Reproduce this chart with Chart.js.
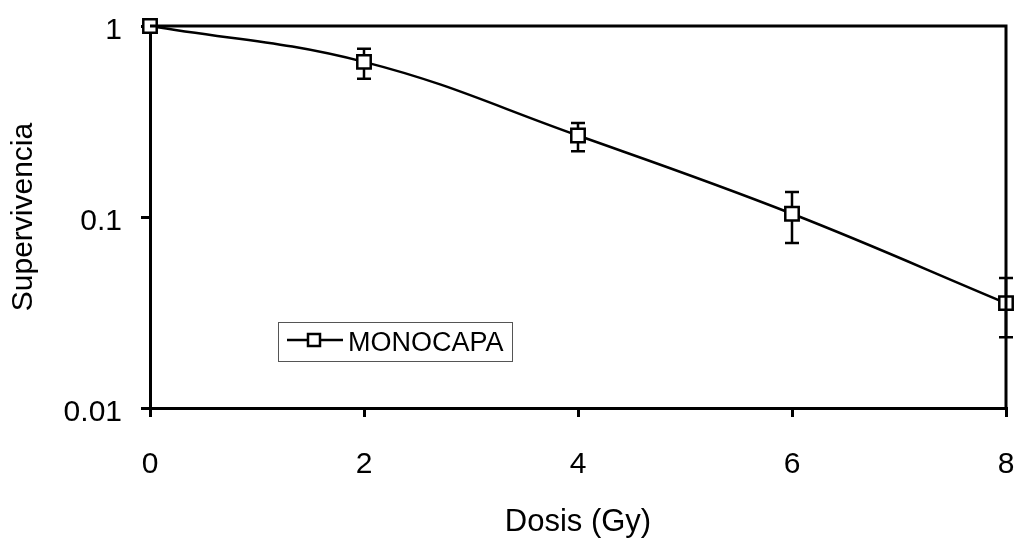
<!DOCTYPE html>
<html>
<head>
<meta charset="utf-8">
<script src="https://cdn.jsdelivr.net/npm/chart.js@4"></script>
<style>
  html, body { margin: 0; padding: 0; background: #fff; }
  #wrap { width: 1018px; height: 538px; }
</style>
</head>
<body>
<div id="wrap"><canvas id="graph-viewer" width="1018" height="538"></canvas></div>
<script>
// dose (Gy) and surviving fraction
const doses = [0, 2, 4, 6, 8];
const survival = [1.0, 0.649, 0.267, 0.104, 0.0354];
const errUpper = [1.0, 0.759, 0.311, 0.135, 0.0479];
const errLower = [1.0, 0.529, 0.221, 0.073, 0.0235];
const yTicks = [0.01, 0.1, 1];
const xTicks = [0, 2, 4, 6, 8];
const seriesName = 'MONOCAPA';

const FONT = 'Arial, "Liberation Sans", sans-serif';

// vertical error bars with caps, drawn under the markers
const errorBars = {
    id: 'errorBars',
    beforeDatasetsDraw(chart) {
        const ctx = chart.ctx;
        const xs = chart.scales.x, ys = chart.scales.y;
        ctx.save();
        ctx.strokeStyle = '#000';
        ctx.lineWidth = 2.5;
        doses.forEach(function (d, i) {
            if (errUpper[i] === errLower[i]) return;
            const px = xs.getPixelForValue(d);
            const top = ys.getPixelForValue(errUpper[i]);
            const bot = ys.getPixelForValue(errLower[i]);
            ctx.beginPath();
            ctx.moveTo(px, top); ctx.lineTo(px, bot);
            ctx.moveTo(px - 7, top); ctx.lineTo(px + 7, top);
            ctx.moveTo(px - 7, bot); ctx.lineTo(px + 7, bot);
            ctx.stroke();
        });
        ctx.restore();
    }
};

// top and right edges of the plot box plus the boxed legend inside it
const frameAndLegend = {
    id: 'frameAndLegend',
    afterDatasetsDraw(chart) {
        const ctx = chart.ctx;
        const a = chart.chartArea;
        ctx.save();
        ctx.strokeStyle = '#000';
        ctx.lineWidth = 3;
        ctx.beginPath();
        ctx.moveTo(a.left, a.top); ctx.lineTo(a.right, a.top); ctx.lineTo(a.right, a.bottom);
        ctx.stroke();

        // legend box
        ctx.lineWidth = 1;
        ctx.strokeStyle = '#555';
        ctx.fillStyle = '#fff';
        ctx.fillRect(278.5, 322.5, 234, 39);
        ctx.strokeRect(278.5, 322.5, 234, 39);
        ctx.strokeStyle = '#000';
        ctx.lineWidth = 2.5;
        ctx.beginPath();
        ctx.moveTo(287, 340); ctx.lineTo(343, 340);
        ctx.stroke();
        ctx.fillRect(308, 334, 12, 12);
        ctx.strokeRect(308, 334, 12, 12);
        ctx.fillStyle = '#000';
        ctx.font = '27px ' + FONT;
        ctx.textBaseline = 'middle';
        ctx.textAlign = 'left';
        ctx.fillText(seriesName, 348, 344);
        ctx.restore();
    }
};

document.addEventListener('DOMContentLoaded', function () {
    const ctx = document.getElementById('graph-viewer').getContext('2d');
    new Chart(ctx, {
        type: 'line',
        data: {
            datasets: [{
                label: seriesName,
                data: doses.map((d, i) => ({ x: d, y: survival[i] })),
                borderColor: '#000',
                borderWidth: 2.5,
                backgroundColor: '#fff',
                pointStyle: 'rect',
                pointRadius: 9.5,
                pointBorderWidth: 2.5,
                pointBorderColor: '#000',
                pointBackgroundColor: '#fff',
                tension: 0.4,
                clip: false
            }]
        },
        options: {
            responsive: false,
            animation: false,
            events: [],
            layout: { padding: { top: 26, right: 8, left: 0, bottom: 0 } },
            plugins: {
                legend: { display: false },
                tooltip: { enabled: false }
            },
            scales: {
                x: {
                    type: 'linear',
                    min: 0,
                    max: 8,
                    afterBuildTicks: s => { s.ticks = xTicks.map(v => ({ value: v })); },
                    afterFit: s => { s.height = 130; s.paddingLeft = 0; s.paddingRight = 0; },
                    grid: { drawOnChartArea: false, drawTicks: true, tickLength: 9, color: '#000', lineWidth: 3 },
                    border: { display: true, color: '#000', width: 3 },
                    ticks: { color: '#000', font: { family: FONT, size: 30 }, padding: 30, maxRotation: 0 },
                    title: { display: true, text: 'Dosis (Gy)', color: '#000', font: { family: FONT, size: 31, lineHeight: 1 }, padding: { top: 0, bottom: 0 } }
                },
                y: {
                    type: 'logarithmic',
                    min: 0.01,
                    max: 1,
                    afterBuildTicks: s => { s.ticks = yTicks.map(v => ({ value: v })); },
                    afterFit: s => { s.width = 150; s.paddingTop = 0; s.paddingBottom = 0; },
                    grid: { drawOnChartArea: false, drawTicks: true, tickLength: 9, color: '#000', lineWidth: 3 },
                    border: { display: true, color: '#000', width: 3 },
                    ticks: { color: '#000', font: { family: FONT, size: 30 }, padding: 19, labelOffset: 5, callback: v => String(v) },
                    title: { display: true, text: 'Supervivencia', color: '#000', font: { family: FONT, size: 30 }, padding: { top: 6, bottom: 0 } }
                }
            }
        },
        plugins: [errorBars, frameAndLegend]
    });
});
</script>
</body>
</html>
